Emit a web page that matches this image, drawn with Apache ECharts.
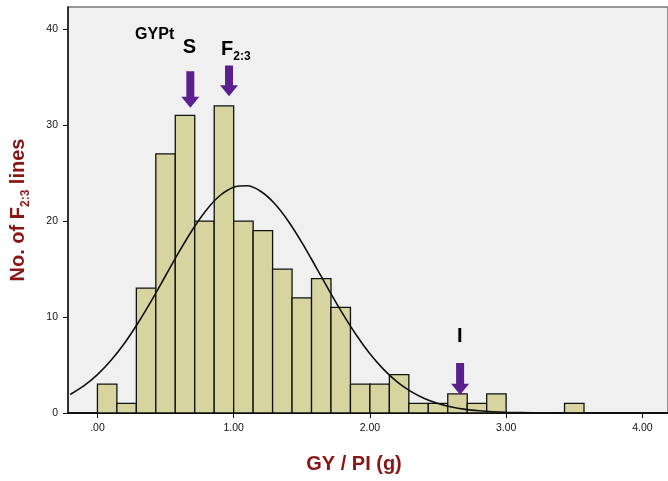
<!DOCTYPE html>
<html>
<head>
<meta charset="utf-8">
<script src="https://cdn.jsdelivr.net/npm/echarts@6/dist/echarts.min.js"></script>
<style>
  html, body { margin: 0; padding: 0; background: #fff; }
  #chart { width: 668px; height: 481px; }
</style>
</head>
<body>
<div id="chart"></div>
<script>
// 直方图数据 (bin width = 1/7 g, starting at .00)
const binWidth = 1 / 7;
const binCounts = [3, 1, 13, 27, 31, 20, 32, 20, 19, 15, 12, 14, 11, 3, 3, 4, 1, 1, 2, 1, 2, 0, 0, 0, 1];

// 正态曲线
const curveX = [-0.2, -0.1, 0, 0.1, 0.2, 0.3, 0.4, 0.5, 0.6, 0.7, 0.8, 0.9, 1.0, 1.1, 1.2, 1.3, 1.4, 1.5,
    1.6, 1.7, 1.8, 1.9, 2.0, 2.1, 2.2, 2.3, 2.4, 2.5, 2.6, 2.7, 2.8, 2.9, 3.0, 3.2, 3.4, 3.6, 4.2];
const curveY = [1.93, 2.82, 3.99, 5.49, 7.30, 9.43, 11.79, 14.30, 16.81, 19.15, 21.16, 22.66, 23.52, 23.67,
    23.08, 21.83, 20.01, 17.78, 15.31, 12.78, 10.35, 8.12, 6.17, 4.55, 3.25, 2.25, 1.51, 0.99, 0.62, 0.38,
    0.23, 0.13, 0.07, 0.02, 0.005, 0, 0];

// 箭头 (x, top, tip)
const arrowX = [0.682, 0.966, 2.662];
const arrowTop = [35.6, 36.2, 5.2];
const arrowTip = [31.8, 33.0, 1.9];

// 标注文字
const noteText = ['GYPt', 'S', 'F2:3', 'I'];
const noteX = [0.42, 0.675, 1.016, 2.66];
const noteY = [39.4, 37.9, 37.7, 7.8];

const xTicks = [0, 1, 2, 3, 4];
const yTicks = [0, 10, 20, 30, 40];

const darkRed = '#8b1414';
const purple = '#5b1f8e';
const font = '"Liberation Sans", Arial, sans-serif';

const chart = echarts.init(document.getElementById('chart'));

const barData = binCounts.map((c, i) => [i * binWidth, (i + 1) * binWidth, c]);

chart.setOption({
    animation: false,
    grid: {
        left: 63,
        right: -6,
        top: 7,
        bottom: 68,
        show: true,
        backgroundColor: '#f0f0f0',
        borderColor: '#777',
        borderWidth: 1.5
    },
    xAxis: {
        type: 'value',
        min: -0.216,
        max: 4.188,
        name: 'GY / PI (g)',
        nameLocation: 'middle',
        nameGap: 41,
        nameTextStyle: {
            color: darkRed,
            fontFamily: font,
            fontWeight: 'bold',
            fontSize: 20,
            padding: [0, 28, 0, 0]
        },
        splitLine: { show: false },
        axisLine: { onZero: false, lineStyle: { color: '#111', width: 2 } },
        axisTick: { customValues: xTicks, length: 5, lineStyle: { color: '#111' } },
        axisLabel: {
            customValues: xTicks,
            margin: 10,
            fontSize: 10.5,
            fontFamily: font,
            color: '#111',
            formatter: v => (v === 0 ? '.00' : v.toFixed(2))
        }
    },
    yAxis: {
        type: 'value',
        min: 0,
        max: 42.3,
        name: '{a|No. of F}{s|2:3}{a| lines}',
        nameLocation: 'middle',
        nameGap: 36,
        nameTextStyle: {
            color: darkRed,
            fontFamily: font,
            fontWeight: 'bold',
            fontSize: 20,
            rich: {
                a: { color: darkRed, fontFamily: font, fontWeight: 'bold', fontSize: 20, lineHeight: 24, verticalAlign: 'top' },
                s: { color: darkRed, fontFamily: font, fontWeight: 'bold', fontSize: 12, lineHeight: 14, verticalAlign: 'top', padding: [12, 0, 0, 0] }
            }
        },
        splitLine: { show: false },
        axisLine: { show: true, onZero: false, lineStyle: { color: '#111', width: 1.5 } },
        axisTick: { customValues: yTicks, length: 5, lineStyle: { color: '#111' } },
        axisLabel: {
            customValues: yTicks,
            margin: 10,
            fontSize: 10.5,
            fontFamily: font,
            color: '#111'
        }
    },
    series: [
        {
            type: 'custom',
            name: 'bins',
            data: barData,
            silent: true,
            renderItem: (params, api) => {
                if (api.value(2) <= 0) return null;
                const p0 = api.coord([api.value(0), api.value(2)]);
                const p1 = api.coord([api.value(1), 0]);
                return {
                    type: 'rect',
                    shape: { x: p0[0], y: p0[1], width: p1[0] - p0[0], height: p1[1] - p0[1] },
                    style: { fill: '#d7d49f', stroke: '#111', lineWidth: 1.3 }
                };
            },
            z: 2
        },
        {
            type: 'line',
            name: 'normal',
            data: curveX.map((x, i) => [x, curveY[i]]),
            smooth: 0.3,
            showSymbol: false,
            clip: true,
            silent: true,
            lineStyle: { color: '#111', width: 1.6 },
            z: 3
        },
        {
            type: 'custom',
            name: 'arrows',
            data: arrowX.map((x, i) => [x, arrowTop[i], arrowTip[i]]),
            silent: true,
            renderItem: (params, api) => {
                const top = api.coord([api.value(0), api.value(1)]);
                const tip = api.coord([api.value(0), api.value(2)]);
                const cx = top[0];
                const hs = 4, hh = 9, hl = 11;
                return {
                    type: 'polygon',
                    shape: {
                        points: [
                            [cx - hs, top[1]], [cx + hs, top[1]], [cx + hs, tip[1] - hl],
                            [cx + hh, tip[1] - hl], [cx, tip[1]], [cx - hh, tip[1] - hl],
                            [cx - hs, tip[1] - hl]
                        ]
                    },
                    style: { fill: purple }
                };
            },
            z: 4
        },
        {
            type: 'scatter',
            name: 'notes',
            data: noteX.map((x, i) => [x, noteY[i], noteText[i]]),
            symbolSize: 0,
            silent: true,
            itemStyle: { opacity: 1 },
            label: {
                show: true,
                position: 'inside',
                color: '#000',
                fontFamily: font,
                fontWeight: 'bold',
                formatter: p => {
                    const t = p.data[2];
                    if (t === 'GYPt') return '{g|GYPt}';
                    if (t === 'F2:3') return '{b|F}{s|2:3}';
                    return '{b|' + t + '}';
                },
                rich: {
                    g: { fontFamily: font, fontWeight: 'bold', fontSize: 16, color: '#000' },
                    b: { fontFamily: font, fontWeight: 'bold', fontSize: 20, color: '#000', lineHeight: 24, verticalAlign: 'top' },
                    s: { fontFamily: font, fontWeight: 'bold', fontSize: 12, color: '#000', lineHeight: 14, verticalAlign: 'top', padding: [12, 0, 0, 0] }
                }
            },
            z: 5
        }
    ]
});
</script>
</body>
</html>
